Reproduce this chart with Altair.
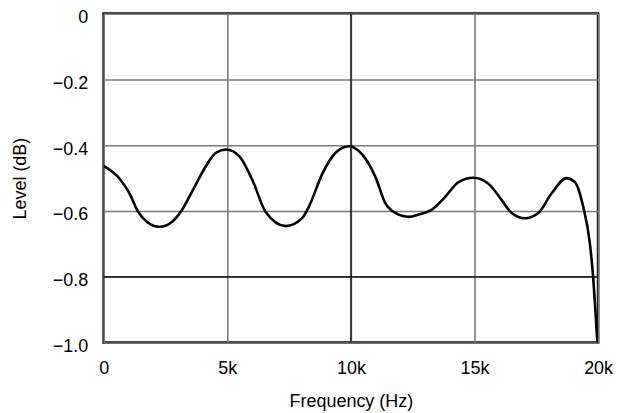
import altair as alt
import pandas as pd

freq_hz = [0, 645, 1048, 1384, 1720, 2258, 2795, 3132, 3602, 4140, 4543, 4946,
           5484, 6020, 6560, 7366, 8037, 8306, 8843, 9382, 9919, 10455, 10995,
           11398, 11801, 12338, 12741, 13278, 13817, 14354, 14959, 15564, 16100,
           16503, 17043, 17580, 18116, 18721, 19059, 19395, 19664, 19798, 19892,
           19973, 20000]
level_db = [-0.463, -0.502, -0.547, -0.601, -0.631, -0.648, -0.631, -0.601,
            -0.537, -0.463, -0.423, -0.413, -0.433, -0.507, -0.604, -0.646,
            -0.621, -0.586, -0.487, -0.423, -0.403, -0.428, -0.497, -0.577,
            -0.606, -0.618, -0.611, -0.596, -0.557, -0.512, -0.499, -0.517,
            -0.567, -0.606, -0.622, -0.606, -0.547, -0.500, -0.512, -0.586,
            -0.696, -0.799, -0.903, -0.993, -1.0]

x_ticks = [0, 5000, 10000, 15000, 20000]
y_ticks = [0, -0.2, -0.4, -0.6, -0.8, -1.0]
x_dark = [10000]
y_dark = [-0.8]

df = pd.DataFrame({"f": freq_hz, "v": level_db})

FONT = "Liberation Sans"

xscale = alt.Scale(domain=[0, 20000], nice=False, zero=False)
yscale = alt.Scale(domain=[-1.0, 0], nice=False, zero=False)

base = alt.Chart(df)

curve = base.mark_line(color="black", strokeWidth=2.6, interpolate="monotone",
                       clip=True).encode(
    x=alt.X("f:Q", scale=xscale, title="Frequency (Hz)",
            axis=alt.Axis(values=x_ticks, grid=True, gridColor="#7a7a7a",
                          gridWidth=1.6, ticks=False, domain=False,
                          labelFlush=False,
                          labelPadding=17, titlePadding=15,
                          labelExpr="datum.value == 0 ? '0' : (datum.value/1000) + 'k'")),
    y=alt.Y("v:Q", scale=yscale, title="Level (dB)",
            axis=alt.Axis(values=y_ticks, grid=True, gridColor="#7a7a7a",
                          gridWidth=1.6, ticks=False, domain=False,
                          labelFlush=False,
                          labelPadding=16, titlePadding=23, labelOffset=4,
                          labelExpr="datum.value == 0 ? '0' : replace(format(datum.value, '.1f'), '-', '\u2013')")),
)

vrule = alt.Chart(pd.DataFrame({"f": x_dark})).mark_rule(
    color="black", strokeWidth=1.2).encode(x=alt.X("f:Q", scale=xscale))
hrule = alt.Chart(pd.DataFrame({"v": y_dark})).mark_rule(
    color="black", strokeWidth=1.2).encode(y=alt.Y("v:Q", scale=yscale))

chart = alt.layer(vrule, hrule, curve).properties(
    width=496, height=330,
    autosize=alt.AutoSizeParams(type="none"),
    padding={"left": 96, "top": 5, "right": 25, "bottom": 70},
).configure_view(
    stroke="black", strokeWidth=2.6
).configure_axis(
    labelFont=FONT, titleFont=FONT, labelFontSize=18, titleFontSize=18,
    labelColor="black", titleColor="black", titleFontWeight="normal"
)

chart.save("out.html", embed_options={"renderer": "svg", "actions": False})
